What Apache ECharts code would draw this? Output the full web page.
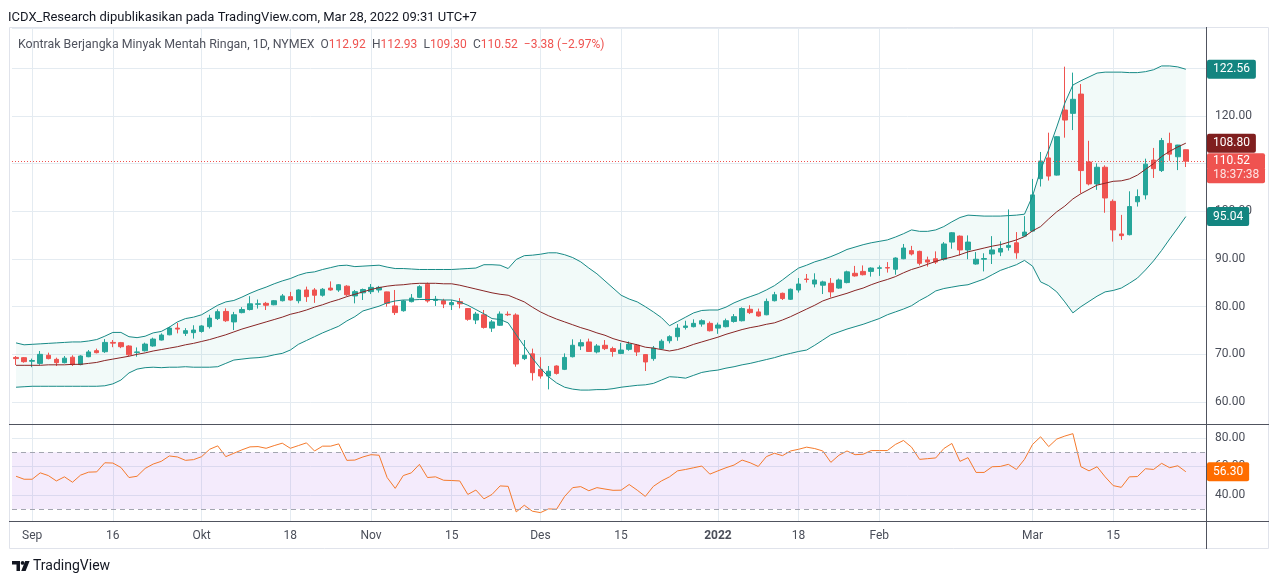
<!DOCTYPE html>
<html>
<head>
<meta charset="utf-8">
<title>Kontrak Berjangka Minyak Mentah Ringan, 1D, NYMEX</title>
<script src="https://cdn.jsdelivr.net/npm/echarts@6/dist/echarts.min.js"></script>
<style>
  html, body { margin: 0; padding: 0; background: #fff; }
  #chart { width: 1280px; height: 584px; }
</style>
</head>
<body>
<div id="chart"></div>
<script>
// trading days on the chart (daily bars)
var dates = [
  '2021-08-30','2021-08-31',
  '2021-09-01','2021-09-02','2021-09-03','2021-09-07','2021-09-08','2021-09-09','2021-09-10',
  '2021-09-13','2021-09-14','2021-09-15','2021-09-16','2021-09-17','2021-09-20','2021-09-21',
  '2021-09-22','2021-09-23','2021-09-24','2021-09-27','2021-09-28','2021-09-29','2021-09-30',
  '2021-10-01','2021-10-04','2021-10-05','2021-10-06','2021-10-07','2021-10-08','2021-10-11',
  '2021-10-12','2021-10-13','2021-10-14','2021-10-15','2021-10-18','2021-10-19','2021-10-20',
  '2021-10-21','2021-10-22','2021-10-25','2021-10-26','2021-10-27','2021-10-28','2021-10-29',
  '2021-11-01','2021-11-02','2021-11-03','2021-11-04','2021-11-05','2021-11-08','2021-11-09',
  '2021-11-10','2021-11-11','2021-11-12','2021-11-15','2021-11-16','2021-11-17','2021-11-18',
  '2021-11-19','2021-11-22','2021-11-23','2021-11-24','2021-11-26','2021-11-29','2021-11-30',
  '2021-12-01','2021-12-02','2021-12-03','2021-12-06','2021-12-07','2021-12-08','2021-12-09',
  '2021-12-10','2021-12-13','2021-12-14','2021-12-15','2021-12-16','2021-12-17','2021-12-20',
  '2021-12-21','2021-12-22','2021-12-23','2021-12-27','2021-12-28','2021-12-29','2021-12-30',
  '2021-12-31',
  '2022-01-03','2022-01-04','2022-01-05','2022-01-06','2022-01-07','2022-01-10','2022-01-11',
  '2022-01-12','2022-01-13','2022-01-14','2022-01-18','2022-01-19','2022-01-20','2022-01-21',
  '2022-01-24','2022-01-25','2022-01-26','2022-01-27','2022-01-28','2022-01-31',
  '2022-02-01','2022-02-02','2022-02-03','2022-02-04','2022-02-07','2022-02-08','2022-02-09',
  '2022-02-10','2022-02-11','2022-02-14','2022-02-15','2022-02-16','2022-02-17','2022-02-18',
  '2022-02-22','2022-02-23','2022-02-24','2022-02-25','2022-02-28',
  '2022-03-01','2022-03-02','2022-03-03','2022-03-04','2022-03-07','2022-03-08','2022-03-09',
  '2022-03-10','2022-03-11','2022-03-14','2022-03-15','2022-03-16','2022-03-17','2022-03-18',
  '2022-03-21','2022-03-22','2022-03-23','2022-03-24','2022-03-25','2022-03-28'
];
// empty days kept on the right side of the chart
var futureDates = ['2022-03-29', '2022-03-30'];

var opens = [
  69.35, 69.30, 68.55, 68.10, 69.80, 68.95, 68.25, 69.40, 67.85, 69.50,
  70.77, 70.55, 72.50, 72.45, 71.75, 70.40, 70.75, 71.75, 73.00, 74.10,
  75.50, 74.40, 74.55, 74.80, 75.80, 77.50, 79.00, 76.80, 78.75, 79.40,
  80.50, 80.70, 80.40, 81.25, 82.10, 81.25, 83.50, 83.50, 82.40, 83.90,
  83.50, 84.30, 82.25, 82.90, 83.15, 83.50, 83.10, 80.15, 79.15, 81.05,
  81.95, 84.70, 81.30, 81.25, 80.40, 81.05, 79.60, 77.20, 78.30, 75.50,
  76.10, 78.40, 78.25, 69.10, 70.10, 66.85, 65.45, 67.55, 66.85, 69.50,
  71.75, 72.60, 70.50, 71.90, 71.20, 70.20, 71.05, 71.90, 69.95, 69.10,
  71.20, 72.85, 73.70, 75.65, 75.80, 76.35, 76.50, 75.50, 75.80, 76.90,
  77.05, 79.45, 78.90, 78.30, 81.25, 82.80, 81.55, 83.50, 85.80, 84.75,
  84.50, 84.90, 83.90, 85.05, 87.00, 87.40, 87.40, 88.05, 88.20, 87.85,
  90.05, 91.75, 91.60, 89.80, 90.05, 89.95, 93.55, 94.80, 91.90, 88.95,
  89.95, 91.05, 91.45, 92.45, 93.40, 94.80, 95.85, 106.85, 111.20, 107.60,
  121.25, 120.55, 124.60, 110.35, 105.75, 109.25, 102.10, 95.25, 95.10, 102.00,
  103.45, 110.75, 108.55, 114.25, 111.45, 112.92
];
var highs = [
  69.65, 69.44, 69.10, 70.70, 70.35, 69.30, 69.65, 69.80, 69.80, 70.90,
  71.20, 73.20, 73.00, 72.60, 71.90, 71.45, 72.45, 73.50, 74.40, 75.80,
  76.60, 75.50, 76.10, 76.10, 78.30, 79.45, 79.65, 78.90, 79.90, 82.20,
  81.50, 81.00, 81.40, 82.65, 83.10, 83.65, 84.20, 83.90, 83.90, 85.30,
  84.75, 84.50, 83.50, 83.80, 84.75, 84.35, 83.15, 83.50, 81.40, 82.65,
  84.50, 85.05, 82.25, 81.65, 81.40, 81.80, 79.70, 78.90, 79.30, 77.20,
  79.00, 79.00, 78.60, 73.00, 71.20, 69.40, 67.55, 67.70, 70.20, 73.15,
  73.15, 73.30, 72.15, 73.00, 71.60, 72.40, 72.70, 72.15, 70.05, 71.75,
  73.15, 74.00, 76.35, 77.05, 77.35, 77.35, 76.90, 76.65, 77.50, 78.45,
  79.85, 80.30, 79.60, 81.70, 83.10, 82.95, 83.80, 86.00, 86.85, 87.00,
  85.45, 86.00, 85.90, 87.55, 88.55, 88.65, 88.25, 88.65, 89.35, 90.35,
  93.15, 92.75, 91.75, 90.50, 91.60, 93.55, 95.65, 94.95, 94.95, 91.45,
  91.20, 94.80, 93.70, 100.40, 95.65, 99.00, 106.80, 112.45, 116.50, 115.80,
  130.35, 129.10, 126.70, 114.80, 110.05, 109.65, 102.50, 99.25, 104.20, 104.60,
  111.05, 113.30, 115.40, 116.50, 113.95, 112.93
];
var lows = [
  67.75, 68.25, 67.30, 67.80, 68.95, 67.55, 68.10, 67.55, 67.70, 69.40,
  70.20, 70.30, 71.50, 71.30, 69.65, 69.50, 70.60, 71.60, 72.90, 74.00,
  74.40, 73.85, 73.30, 74.55, 75.40, 77.20, 76.80, 75.10, 78.60, 79.20,
  79.60, 79.30, 80.30, 81.10, 81.25, 80.70, 81.00, 80.80, 82.10, 83.35,
  83.10, 82.25, 80.70, 81.40, 82.65, 82.95, 80.00, 78.25, 78.95, 80.90,
  81.80, 80.85, 80.15, 79.70, 79.30, 79.65, 77.05, 76.35, 75.40, 74.70,
  75.95, 78.05, 67.40, 68.80, 64.50, 64.90, 62.65, 65.75, 66.70, 69.35,
  70.90, 70.50, 70.20, 70.90, 69.50, 70.05, 70.75, 69.65, 66.50, 68.65,
  70.90, 72.30, 72.85, 75.20, 75.65, 75.80, 74.80, 74.30, 75.65, 76.65,
  76.90, 78.45, 77.90, 78.20, 81.10, 81.40, 81.40, 82.95, 85.05, 84.05,
  82.65, 81.95, 83.75, 84.90, 86.30, 86.55, 86.30, 86.45, 87.15, 86.70,
  89.95, 90.75, 88.65, 88.40, 88.95, 89.65, 92.15, 90.75, 89.95, 88.80,
  87.40, 88.95, 90.60, 91.75, 90.05, 94.70, 95.75, 105.20, 106.45, 107.50,
  115.45, 117.05, 103.80, 105.45, 104.50, 99.70, 93.65, 94.00, 94.95, 101.00,
  102.50, 107.00, 108.25, 110.60, 108.65, 109.30
];
var closes = [
  69.10, 68.46, 68.70, 70.00, 69.10, 68.25, 69.20, 67.85, 69.65, 70.50,
  70.35, 72.50, 72.35, 71.60, 69.90, 70.50, 72.15, 73.20, 74.05, 75.50,
  75.30, 74.97, 75.10, 75.95, 77.60, 78.95, 77.05, 78.30, 79.40, 80.60,
  80.60, 80.30, 81.25, 82.25, 81.40, 83.50, 82.10, 82.40, 83.65, 83.50,
  84.60, 82.50, 83.15, 83.60, 84.05, 84.05, 80.70, 78.75, 81.20, 81.80,
  84.20, 81.20, 81.55, 80.55, 80.85, 80.60, 77.35, 78.45, 75.65, 76.80,
  78.45, 78.30, 67.97, 69.80, 66.15, 65.45, 66.45, 66.00, 69.35, 71.90,
  72.45, 70.60, 71.75, 71.20, 70.60, 70.90, 72.15, 70.50, 68.40, 71.30,
  72.75, 73.70, 75.50, 75.95, 76.50, 77.05, 74.95, 76.15, 77.05, 77.90,
  79.60, 78.75, 78.05, 81.10, 82.50, 81.70, 83.65, 84.75, 85.70, 85.60,
  85.20, 83.10, 85.60, 87.30, 86.45, 86.70, 88.10, 88.15, 88.10, 90.20,
  92.30, 91.05, 89.10, 89.35, 89.35, 93.15, 95.50, 91.90, 93.55, 89.95,
  90.10, 91.90, 92.20, 92.85, 91.30, 95.65, 103.45, 110.55, 107.40, 115.65,
  119.15, 123.50, 108.55, 105.75, 109.25, 102.80, 96.10, 94.90, 101.00, 103.10,
  109.90, 108.95, 114.85, 112.00, 113.90, 110.52
];

// Bollinger Bands as drawn on the price pane
var upperBand = [
  72.4, 72.0, 72.1, 72.2, 72.3, 72.4, 72.5, 72.6, 72.6, 72.8,
  73.1, 73.8, 74.6, 74.6, 73.7, 73.5, 73.8, 74.5, 74.8, 75.7,
  76.8, 77.5, 77.8, 78.3, 79.3, 80.3, 81.0, 81.3, 82.0, 82.8,
  83.5, 84.1, 84.8, 85.4, 85.9, 86.6, 87.1, 87.3, 87.8, 88.2,
  88.6, 88.7, 88.4, 88.5, 88.6, 88.7, 88.3, 88.0, 88.0, 87.9,
  87.8, 87.8, 87.8, 87.8, 87.8, 87.9, 88.0, 88.1, 88.8, 88.8,
  88.7, 88.0, 89.9, 90.7, 90.8, 91.0, 91.3, 91.3, 90.9, 90.3,
  89.4, 88.1, 86.9, 85.4, 83.9, 82.4, 81.6, 81.0, 80.0, 78.9,
  77.7, 76.0, 76.9, 77.8, 78.7, 79.2, 79.3, 79.3, 79.9, 80.8,
  81.5, 82.1, 82.7, 83.5, 84.4, 85.6, 86.9, 88.1, 88.7, 89.4,
  89.9, 90.5, 91.2, 92.0, 92.5, 93.0, 93.4, 93.7, 94.0, 94.6,
  95.3, 96.1, 95.8, 95.8, 96.1, 96.8, 97.8, 98.7, 99.2, 99.1,
  99.0, 99.0, 99.0, 99.1, 99.2, 99.4, 103.2, 108.7, 112.9, 117.7,
  122.7, 126.5, 127.4, 128.2, 129.0, 129.2, 129.2, 129.2, 129.1, 129.1,
  129.3, 129.7, 130.5, 130.5, 130.3, 129.8
];
var basisBand = [
  67.7, 67.7, 67.7, 67.7, 67.8, 67.8, 67.8, 67.9, 67.9, 68.1,
  68.3, 68.7, 69.0, 69.3, 69.6, 70.0, 70.3, 70.7, 71.0, 71.3,
  71.6, 72.0, 72.3, 72.7, 73.1, 73.6, 74.1, 74.7, 75.3, 75.8,
  76.3, 76.8, 77.3, 77.8, 78.4, 78.8, 79.3, 79.9, 80.4, 81.0,
  81.5, 82.1, 82.6, 83.1, 83.6, 84.0, 84.3, 84.5, 84.6, 84.8,
  84.9, 84.9, 84.9, 84.8, 84.8, 84.5, 84.1, 83.7, 83.3, 82.9,
  82.6, 82.4, 81.7, 81.0, 79.9, 78.9, 78.1, 77.4, 76.8, 76.2,
  75.6, 75.1, 74.5, 74.0, 73.3, 72.8, 72.4, 72.0, 71.5, 71.3,
  71.0, 70.7, 71.0, 71.5, 72.1, 72.6, 73.1, 73.6, 74.2, 74.7,
  75.2, 75.6, 75.9, 76.3, 76.6, 77.2, 77.9, 78.7, 79.5, 80.3,
  81.2, 81.8, 82.3, 82.8, 83.4, 83.9, 84.6, 85.2, 85.7, 86.3,
  87.1, 87.8, 88.3, 88.9, 89.5, 90.0, 90.4, 90.9, 91.5, 91.9,
  92.3, 92.7, 93.0, 93.5, 94.0, 94.7, 95.9, 96.8, 98.4, 99.9,
  101.1, 102.6, 103.7, 104.6, 105.5, 105.9, 106.3, 106.4, 106.8, 107.6,
  108.8, 110.0, 111.5, 112.6, 113.5, 114.3
];
var lowerBand = [
  63.1, 63.2, 63.3, 63.3, 63.3, 63.3, 63.3, 63.3, 63.3, 63.3,
  63.3, 63.4, 63.8, 64.6, 66.1, 66.9, 67.2, 67.3, 67.2, 67.3,
  67.3, 67.4, 67.3, 67.3, 67.3, 67.4, 68.1, 68.8, 69.0, 69.2,
  69.3, 69.5, 69.9, 70.2, 70.9, 72.1, 72.9, 73.7, 74.5, 75.2,
  75.9, 77.0, 77.9, 79.1, 79.6, 80.1, 80.8, 81.2, 81.4, 81.4,
  81.5, 81.5, 81.5, 81.4, 81.4, 81.0, 80.3, 79.4, 78.5, 77.5,
  77.3, 76.6, 74.1, 71.7, 69.2, 67.1, 65.3, 64.0, 63.1, 62.7,
  62.5, 62.5, 62.6, 62.6, 62.8, 63.1, 63.3, 63.5, 63.6, 63.9,
  64.6, 65.3, 65.2, 65.0, 65.6, 66.2, 66.5, 66.7, 67.1, 67.4,
  67.8, 68.1, 68.5, 68.9, 69.3, 69.8, 70.2, 70.6, 70.9, 71.9,
  73.0, 74.1, 74.7, 75.3, 75.8, 76.3, 76.9, 77.5, 78.3, 78.9,
  79.5, 80.2, 81.3, 82.2, 83.3, 83.8, 84.1, 84.4, 84.6, 85.2,
  85.8, 86.7, 87.6, 88.2, 88.8, 89.7, 88.5, 85.2, 84.4, 83.1,
  81.0, 78.7, 80.0, 81.1, 82.2, 83.1, 83.4, 83.9, 84.9, 86.0,
  87.7, 89.6, 91.8, 94.2, 96.5, 98.9
];
// last values printed on the price scale for upper, basis, lower
var bbScaleValues = [122.56, 108.80, 95.04];

var rsi = [
  53.1, 51.0, 51.0, 55.5, 53.6, 49.8, 52.7, 48.9, 53.9, 56.0,
  56.2, 62.6, 62.4, 59.3, 52.2, 53.1, 58.6, 61.7, 63.6, 67.4,
  66.7, 64.3, 64.8, 66.9, 72.1, 74.5, 66.9, 69.3, 71.7, 73.8,
  74.0, 72.8, 74.7, 76.4, 72.8, 74.7, 76.6, 70.9, 74.3, 74.3,
  75.9, 64.3, 64.5, 66.7, 68.3, 67.9, 52.2, 44.6, 53.6, 55.5,
  61.5, 52.2, 52.7, 50.3, 50.1, 49.8, 40.3, 43.4, 37.2, 40.3,
  46.3, 46.0, 28.0, 32.7, 28.5, 27.5, 30.1, 29.9, 38.9, 45.1,
  45.8, 42.9, 45.1, 44.1, 43.2, 43.3, 47.3, 43.3, 38.9, 46.0,
  49.8, 52.7, 56.9, 57.9, 59.1, 60.3, 54.6, 56.9, 59.1, 61.0,
  64.5, 62.6, 60.0, 66.9, 69.3, 67.6, 70.9, 72.1, 73.6, 72.6,
  70.9, 62.9, 67.9, 70.9, 68.3, 68.6, 71.2, 71.2, 71.2, 75.5,
  78.3, 73.6, 65.0, 65.5, 66.0, 72.6, 76.2, 63.6, 66.2, 55.8,
  55.8, 59.8, 60.0, 61.5, 57.9, 65.0, 75.5, 80.9, 74.0, 79.3,
  81.4, 83.1, 59.8, 56.9, 59.8, 52.7, 46.5, 45.3, 52.7, 52.9,
  58.4, 57.9, 62.2, 59.1, 60.5, 56.3
];
var rsiUpper = 70, rsiLower = 30;

// x axis tick labels
var tickDates = ['2021-09-01','2021-09-16','2021-10-01','2021-10-18','2021-11-01','2021-11-15',
  '2021-12-01','2021-12-15','2022-01-03','2022-01-18','2022-02-01','2022-03-01','2022-03-15'];
var tickLabels = ['Sep','16','Okt','18','Nov','15','Des','15','2022','18','Feb','Mar','15'];

var symbolName = 'Kontrak Berjangka Minyak Mentah Ringan, 1D, NYMEX';
var countdown = '18:37:38';

var chartFont = 'Roboto, "Noto Sans", sans-serif';
var upColor = '#26a69a', downColor = '#ef5350';
var bandColor = '#178a86', basisColor = '#882525';
var gridColor = '#e4ebf1', scaleText = '#4a4e59';
var hiddenLine = { width: 0, color: 'rgba(0,0,0,0)' };

var categories = dates.concat(futureDates);
var candleData = dates.map(function (d, i) {
  return [opens[i], closes[i], lows[i], highs[i]];
});
var bandWidth = upperBand.map(function (v, i) { return +(v - lowerBand[i]).toFixed(2); });
var last = dates.length - 1;
var change = closes[last] - closes[last - 1];
var changePct = change / closes[last - 1] * 100;

function signed(v) { return (v < 0 ? '\u2212' : '+') + Math.abs(v).toFixed(2); }

function isTick(idx, val) { return tickDates.indexOf(val) >= 0; }

function scaleTag(text, bg, extra) {
  var o = {
    show: true, position: 'end', distance: 1, formatter: text, opacity: 1,
    color: '#fff', backgroundColor: bg, padding: [3, 6, 2, 6],
    fontFamily: chartFont, fontSize: 12, lineHeight: 14, borderRadius: 2
  };
  for (var k in extra) o[k] = extra[k];
  return o;
}

var legendLine = '{n|' + symbolName + '}  ' +
  '{k|O}{v|' + opens[last].toFixed(2) + '}  ' +
  '{k|H}{v|' + highs[last].toFixed(2) + '}  ' +
  '{k|L}{v|' + lows[last].toFixed(2) + '}  ' +
  '{k|C}{v|' + closes[last].toFixed(2) + '}  ' +
  '{v|' + signed(change) + ' (' + signed(changePct) + '%)}';

var chart = echarts.init(document.getElementById('chart'));

chart.setOption({
  animation: false,
  backgroundColor: '#ffffff',
  textStyle: { fontFamily: chartFont },
  title: [
    {
      text: 'ICDX_Research dipublikasikan pada TradingView.com, Mar 28, 2022 09:31 UTC+7',
      left: 8, top: 11, padding: 0,
      textStyle: { fontSize: 13, fontWeight: 'normal', color: '#131722', fontFamily: chartFont }
    },
    {
      text: legendLine,
      left: 18, top: 39, padding: 0,
      textStyle: {
        fontSize: 12.4, fontWeight: 'normal', fontFamily: chartFont,
        rich: {
          n: { color: '#50535e', fontSize: 12.4, fontFamily: chartFont },
          k: { color: '#50535e', fontSize: 12, fontFamily: chartFont },
          v: { color: '#ef5350', fontSize: 12, fontFamily: chartFont }
        }
      }
    }
  ],
  grid: [
    { left: 12, right: 74, top: 28, height: 396 },
    { left: 12, right: 74, top: 424, height: 97 }
  ],
  xAxis: [
    {
      type: 'category', gridIndex: 0, data: categories, boundaryGap: true,
      axisLine: { show: false }, axisTick: { show: false }, axisLabel: { show: false },
      splitLine: { show: true, interval: isTick, alignWithLabel: true, lineStyle: { color: gridColor } }
    },
    {
      type: 'category', gridIndex: 1, data: categories, boundaryGap: true,
      axisLine: { show: false }, axisTick: { show: false },
      axisLabel: {
        interval: isTick, margin: 9, color: scaleText, fontSize: 12, fontFamily: chartFont,
        formatter: function (val) {
          var t = tickLabels[tickDates.indexOf(val)];
          return /^\d{4}$/.test(t) ? '{b|' + t + '}' : t;
        },
        rich: { b: { fontWeight: 'bold', color: scaleText, fontSize: 12, fontFamily: chartFont } }
      },
      splitLine: { show: true, interval: isTick, alignWithLabel: true, lineStyle: { color: gridColor } }
    }
  ],
  yAxis: [
    {
      type: 'value', gridIndex: 0, position: 'right', scale: true,
      min: 55.385, max: 138.46, splitNumber: 8,
      axisLine: { show: false }, axisTick: { show: false },
      axisLabel: {
        margin: 9, color: scaleText, fontSize: 12, fontFamily: chartFont,
        showMinLabel: false, showMaxLabel: false,
        formatter: function (v) { return v.toFixed(2); }
      },
      splitLine: { lineStyle: { color: gridColor } }
    },
    {
      type: 'value', gridIndex: 1, position: 'right', scale: true,
      min: 21.6, max: 89.9, splitNumber: 3,
      axisLine: { show: false }, axisTick: { show: false },
      axisLabel: {
        margin: 9, color: scaleText, fontSize: 12, fontFamily: chartFont,
        showMinLabel: false, showMaxLabel: false,
        formatter: function (v) { return v.toFixed(2); }
      },
      splitLine: { lineStyle: { color: gridColor } }
    }
  ],
  series: [
    {
      name: 'BB base', type: 'line', data: lowerBand, stack: 'bb',
      symbol: 'none', silent: true, z: 1,
      lineStyle: { width: 0, opacity: 0 }
    },
    {
      name: 'BB fill', type: 'line', data: bandWidth, stack: 'bb',
      symbol: 'none', silent: true, z: 1,
      lineStyle: { width: 0, opacity: 0 },
      areaStyle: { color: 'rgba(38,166,154,0.06)', opacity: 1 }
    },
    {
      name: 'CL', type: 'candlestick', data: candleData, barWidth: 5, z: 2,
      itemStyle: { color: upColor, color0: downColor, borderColor: upColor, borderColor0: downColor, borderWidth: 1 },
      markLine: {
        silent: true, symbol: ['none', 'none'], z: 5,
        data: [
          {
            yAxis: closes[last],
            lineStyle: { color: '#ef5350', type: [1, 2], width: 1 },
            label: scaleTag(closes[last].toFixed(2), '#ef5350', { width: 46, padding: [2, 6, 0, 6] })
          },
          {
            // second line of the price tag, one text line below the price
            yAxis: closes[last] - 14 / 4.767,
            lineStyle: hiddenLine,
            label: scaleTag(countdown, '#ef5350', { width: 46, padding: [0, 6, 2, 6], color: '#fde3e3' })
          }
        ]
      }
    },
    {
      name: 'BB upper', type: 'line', data: upperBand, symbol: 'none', z: 3,
      lineStyle: { color: bandColor, width: 1 },
      markLine: {
        silent: true, symbol: ['none', 'none'], z: 5,
        data: [{ yAxis: upperBand[last], lineStyle: hiddenLine,
          label: scaleTag(bbScaleValues[0].toFixed(2), '#138580') }]
      }
    },
    {
      name: 'BB lower', type: 'line', data: lowerBand, symbol: 'none', z: 3,
      lineStyle: { color: bandColor, width: 1 },
      markLine: {
        silent: true, symbol: ['none', 'none'], z: 5,
        data: [{ yAxis: lowerBand[last], lineStyle: hiddenLine,
          label: scaleTag(bbScaleValues[2].toFixed(2), '#138580') }]
      }
    },
    {
      name: 'BB basis', type: 'line', data: basisBand, symbol: 'none', z: 3,
      lineStyle: { color: basisColor, width: 1 },
      markLine: {
        silent: true, symbol: ['none', 'none'], z: 5,
        data: [{ yAxis: basisBand[last], lineStyle: hiddenLine,
          label: scaleTag(bbScaleValues[1].toFixed(2), '#801f1f') }]
      }
    },
    {
      name: 'RSI', type: 'line', xAxisIndex: 1, yAxisIndex: 1, data: rsi,
      symbol: 'none', z: 3,
      lineStyle: { color: '#f57a2c', width: 1 },
      markArea: {
        silent: true,
        itemStyle: { color: 'rgba(150,60,230,0.1)' },
        data: [[{ yAxis: rsiLower }, { yAxis: rsiUpper }]]
      },
      markLine: {
        silent: true, symbol: ['none', 'none'], z: 5,
        data: [
          { yAxis: rsiUpper, lineStyle: { color: '#a3a6b0', type: [5, 4], width: 1 }, label: { show: false } },
          { yAxis: rsiLower, lineStyle: { color: '#a3a6b0', type: [5, 4], width: 1 }, label: { show: false } },
          { yAxis: rsi[last], lineStyle: hiddenLine,
            label: scaleTag(rsi[last].toFixed(2), '#ff6d00') }
        ]
      }
    }
  ],
  graphic: [
    { type: 'rect', silent: true, z: 10, shape: { x: 9.5, y: 27.5, width: 1259, height: 521 },
      style: { fill: null, stroke: '#e0e3eb', lineWidth: 1 } },
    { type: 'line', silent: true, z: 10, shape: { x1: 9, y1: 424.5, x2: 1269, y2: 424.5 },
      style: { stroke: '#50535e', lineWidth: 1 } },
    { type: 'line', silent: true, z: 10, shape: { x1: 9, y1: 521.5, x2: 1269, y2: 521.5 },
      style: { stroke: '#50535e', lineWidth: 1 } },
    { type: 'line', silent: true, z: 10, shape: { x1: 1206.5, y1: 27, x2: 1206.5, y2: 549 },
      style: { stroke: '#50535e', lineWidth: 1 } },
    // TradingView logo
    { type: 'polygon', silent: true, shape: { points: [[12, 561], [20, 561], [20, 571], [16.5, 571], [16.5, 564.5], [12, 564.5]] },
      style: { fill: '#131722' } },
    { type: 'circle', silent: true, shape: { cx: 22.6, cy: 562.9, r: 1.9 }, style: { fill: '#131722' } },
    { type: 'polygon', silent: true, shape: { points: [[25.2, 561], [29.6, 561], [25.6, 571], [21.2, 571]] },
      style: { fill: '#131722' } },
    { type: 'text', silent: true, left: 33, top: 559,
      style: { text: 'TradingView', fill: '#131722', font: '14px ' + chartFont } }
  ]
});
</script>
</body>
</html>
